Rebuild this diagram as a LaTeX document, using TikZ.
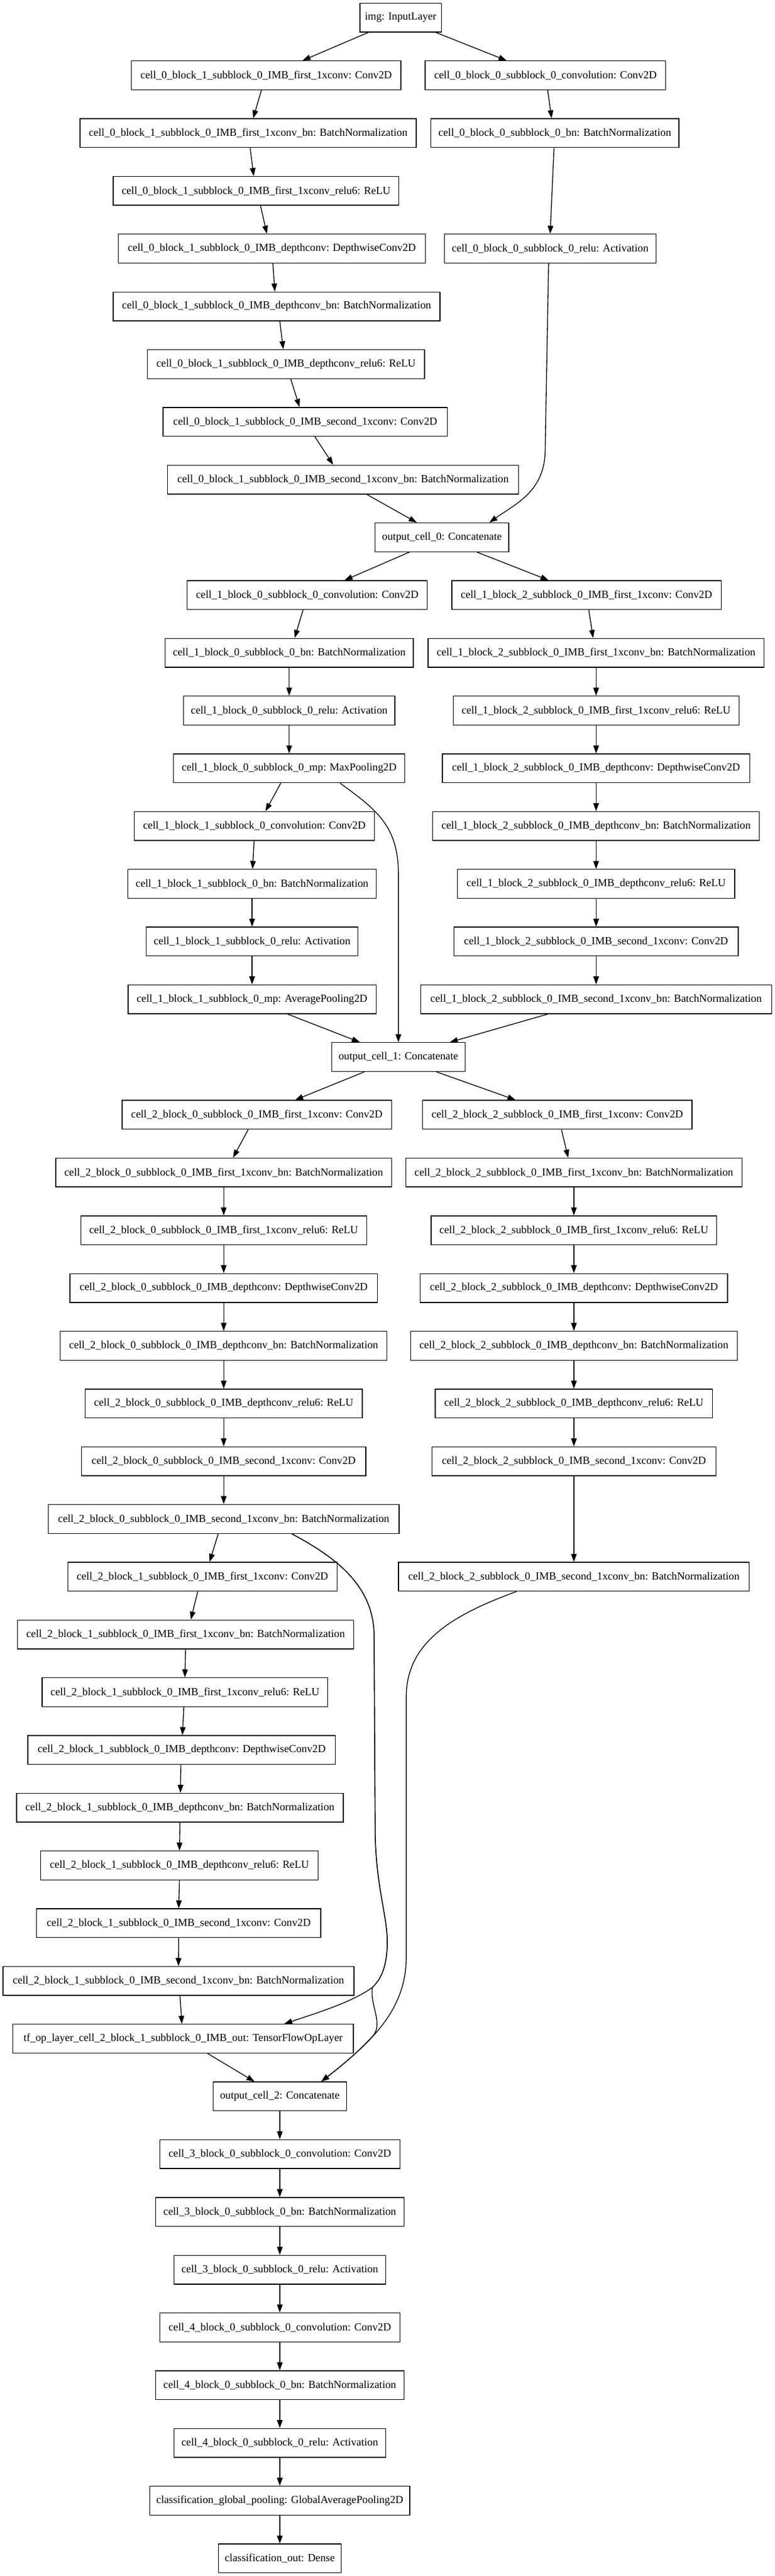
\documentclass[tikz,border=0pt]{standalone}
\usepackage{fontspec}
\setmainfont{Liberation Serif}
\usetikzlibrary{arrows.meta}
\begin{document}
\begin{tikzpicture}[x=1pt,y=1pt,
  layer/.style={draw=black, line width=1pt, rectangle, minimum height=36pt,
    inner xsep=0pt, inner ysep=0pt, font=\fontsize{13.5}{16}\selectfont, fill=white},
  conn/.style={draw=black, line width=1pt, -{Triangle[length=10pt,width=7pt]}},
  wimg/.style={minimum width=101.7pt},
  wfirst/.style={minimum width=336pt},
  wconv/.style={minimum width=299.8pt},
  wfbn/.style={minimum width=419.2pt},
  wbn/.style={minimum width=309.6pt},
  wfrelu/.style={minimum width=356.4pt},
  wdc/.style={minimum width=383.5pt},
  wact/.style={minimum width=263.9pt},
  wdbn/.style={minimum width=407.5pt},
  wdrelu/.style={minimum width=345.9pt},
  wsec/.style={minimum width=354.5pt},
  wsbn/.style={minimum width=437.7pt},
  wcat/.style={minimum width=166.5pt},
  wmp/.style={minimum width=288.5pt},
  wap/.style={minimum width=309.5pt},
  wtf/.style={minimum width=424.8pt},
  wgp/.style={minimum width=324.3pt},
  wout/.style={minimum width=152.9pt}]
\useasboundingbox (0,0) rectangle (966.6,-3212);
\fill[white] (0,0) rectangle (966.6,-3212);

% ---------- cell 0 ----------
\node[layer,wimg] (img) at (499.7,-22) {img: InputLayer};
\node[layer,wfirst] (c0b1a) at (332.0,-94) {cell\_0\_block\_1\_subblock\_0\_IMB\_first\_1xconv: Conv2D};
\node[layer,wconv] (c0b0a) at (680.3,-94) {cell\_0\_block\_0\_subblock\_0\_convolution: Conv2D};
\node[layer,wfbn] (c0b1b) at (309.5,-166) {cell\_0\_block\_1\_subblock\_0\_IMB\_first\_1xconv\_bn: BatchNormalization};
\node[layer,wbn] (c0b0b) at (692.0,-166) {cell\_0\_block\_0\_subblock\_0\_bn: BatchNormalization};
\node[layer,wfrelu] (c0b1c) at (319.4,-238) {cell\_0\_block\_1\_subblock\_0\_IMB\_first\_1xconv\_relu6: ReLU};
\node[layer,wdc] (c0b1d) at (339.1,-310) {cell\_0\_block\_1\_subblock\_0\_IMB\_depthconv: DepthwiseConv2D};
\node[layer,wact] (c0b0c) at (686.2,-310) {cell\_0\_block\_0\_subblock\_0\_relu: Activation};
\node[layer,wdbn] (c0b1e) at (345.0,-382) {cell\_0\_block\_1\_subblock\_0\_IMB\_depthconv\_bn: BatchNormalization};
\node[layer,wdrelu] (c0b1f) at (356.7,-454) {cell\_0\_block\_1\_subblock\_0\_IMB\_depthconv\_relu6: ReLU};
\node[layer,wsec] (c0b1g) at (380.7,-526) {cell\_0\_block\_1\_subblock\_0\_IMB\_second\_1xconv: Conv2D};
\node[layer,wsbn] (c0b1h) at (427.9,-598) {cell\_0\_block\_1\_subblock\_0\_IMB\_second\_1xconv\_bn: BatchNormalization};
\node[layer,wcat] (oc0) at (551.2,-670) {output\_cell\_0: Concatenate};

% ---------- cell 1 ----------
\node[layer,wconv] (c1b0a) at (383.2,-742) {cell\_1\_block\_0\_subblock\_0\_convolution: Conv2D};
\node[layer,wfirst] (c1b2a) at (731.5,-742) {cell\_1\_block\_2\_subblock\_0\_IMB\_first\_1xconv: Conv2D};
\node[layer,wbn] (c1b0b) at (360.7,-814) {cell\_1\_block\_0\_subblock\_0\_bn: BatchNormalization};
\node[layer,wfbn] (c1b2b) at (743.5,-814) {cell\_1\_block\_2\_subblock\_0\_IMB\_first\_1xconv\_bn: BatchNormalization};
\node[layer,wact] (c1b0c) at (360.7,-886) {cell\_1\_block\_0\_subblock\_0\_relu: Activation};
\node[layer,wfrelu] (c1b2c) at (743.5,-886) {cell\_1\_block\_2\_subblock\_0\_IMB\_first\_1xconv\_relu6: ReLU};
\node[layer,wmp] (c1b0d) at (360.7,-958) {cell\_1\_block\_0\_subblock\_0\_mp: MaxPooling2D};
\node[layer,wdc] (c1b2d) at (743.5,-958) {cell\_1\_block\_2\_subblock\_0\_IMB\_depthconv: DepthwiseConv2D};
\node[layer,wconv] (c1b1a) at (317.2,-1030) {cell\_1\_block\_1\_subblock\_0\_convolution: Conv2D};
\node[layer,wdbn] (c1b2e) at (743.5,-1030) {cell\_1\_block\_2\_subblock\_0\_IMB\_depthconv\_bn: BatchNormalization};
\node[layer,wbn] (c1b1b) at (314.4,-1102) {cell\_1\_block\_1\_subblock\_0\_bn: BatchNormalization};
\node[layer,wdrelu] (c1b2f) at (743.5,-1102) {cell\_1\_block\_2\_subblock\_0\_IMB\_depthconv\_relu6: ReLU};
\node[layer,wact] (c1b1c) at (314.4,-1174) {cell\_1\_block\_1\_subblock\_0\_relu: Activation};
\node[layer,wsec] (c1b2g) at (743.5,-1174) {cell\_1\_block\_2\_subblock\_0\_IMB\_second\_1xconv: Conv2D};
\node[layer,wap] (c1b1d) at (314.4,-1246) {cell\_1\_block\_1\_subblock\_0\_mp: AveragePooling2D};
\node[layer,wsbn] (c1b2h) at (743.5,-1246) {cell\_1\_block\_2\_subblock\_0\_IMB\_second\_1xconv\_bn: BatchNormalization};
\node[layer,wcat] (oc1) at (496.9,-1318) {output\_cell\_1: Concatenate};

% ---------- cell 2 ----------
\node[layer,wfirst] (c2b0a) at (320.3,-1390) {cell\_2\_block\_0\_subblock\_0\_IMB\_first\_1xconv: Conv2D};
\node[layer,wfirst] (c2b2a) at (695.1,-1390) {cell\_2\_block\_2\_subblock\_0\_IMB\_first\_1xconv: Conv2D};
\node[layer,wfbn] (c2b0b) at (279.0,-1462) {cell\_2\_block\_0\_subblock\_0\_IMB\_first\_1xconv\_bn: BatchNormalization};
\node[layer,wfbn] (c2b2b) at (715.8,-1462) {cell\_2\_block\_2\_subblock\_0\_IMB\_first\_1xconv\_bn: BatchNormalization};
\node[layer,wfrelu] (c2b0c) at (279.0,-1534) {cell\_2\_block\_0\_subblock\_0\_IMB\_first\_1xconv\_relu6: ReLU};
\node[layer,wfrelu] (c2b2c) at (715.8,-1534) {cell\_2\_block\_2\_subblock\_0\_IMB\_first\_1xconv\_relu6: ReLU};
\node[layer,wdc] (c2b0d) at (279.0,-1606) {cell\_2\_block\_0\_subblock\_0\_IMB\_depthconv: DepthwiseConv2D};
\node[layer,wdc] (c2b2d) at (715.8,-1606) {cell\_2\_block\_2\_subblock\_0\_IMB\_depthconv: DepthwiseConv2D};
\node[layer,wdbn] (c2b0e) at (279.0,-1678) {cell\_2\_block\_0\_subblock\_0\_IMB\_depthconv\_bn: BatchNormalization};
\node[layer,wdbn] (c2b2e) at (715.8,-1678) {cell\_2\_block\_2\_subblock\_0\_IMB\_depthconv\_bn: BatchNormalization};
\node[layer,wdrelu] (c2b0f) at (279.0,-1750) {cell\_2\_block\_0\_subblock\_0\_IMB\_depthconv\_relu6: ReLU};
\node[layer,wdrelu] (c2b2f) at (715.8,-1750) {cell\_2\_block\_2\_subblock\_0\_IMB\_depthconv\_relu6: ReLU};
\node[layer,wsec] (c2b0g) at (279.0,-1822) {cell\_2\_block\_0\_subblock\_0\_IMB\_second\_1xconv: Conv2D};
\node[layer,wsec] (c2b2g) at (715.8,-1822) {cell\_2\_block\_2\_subblock\_0\_IMB\_second\_1xconv: Conv2D};
\node[layer,wsbn] (c2b0h) at (279.0,-1894) {cell\_2\_block\_0\_subblock\_0\_IMB\_second\_1xconv\_bn: BatchNormalization};
\node[layer,wfirst] (c2b1a) at (252.5,-1966) {cell\_2\_block\_1\_subblock\_0\_IMB\_first\_1xconv: Conv2D};
\node[layer,wsbn] (c2b2h) at (715.8,-1966) {cell\_2\_block\_2\_subblock\_0\_IMB\_second\_1xconv\_bn: BatchNormalization};
\node[layer,wfbn] (c2b1b) at (231.5,-2038) {cell\_2\_block\_1\_subblock\_0\_IMB\_first\_1xconv\_bn: BatchNormalization};
\node[layer,wfrelu] (c2b1c) at (230.6,-2110) {cell\_2\_block\_1\_subblock\_0\_IMB\_first\_1xconv\_relu6: ReLU};
\node[layer,wdc] (c2b1d) at (226.6,-2182) {cell\_2\_block\_1\_subblock\_0\_IMB\_depthconv: DepthwiseConv2D};
\node[layer,wdbn] (c2b1e) at (224.4,-2254) {cell\_2\_block\_1\_subblock\_0\_IMB\_depthconv\_bn: BatchNormalization};
\node[layer,wdrelu] (c2b1f) at (223.8,-2326) {cell\_2\_block\_1\_subblock\_0\_IMB\_depthconv\_relu6: ReLU};
\node[layer,wsec] (c2b1g) at (222.9,-2398) {cell\_2\_block\_1\_subblock\_0\_IMB\_second\_1xconv: Conv2D};
\node[layer,wsbn] (c2b1h) at (222.6,-2470) {cell\_2\_block\_1\_subblock\_0\_IMB\_second\_1xconv\_bn: BatchNormalization};
\node[layer,wtf] (tfop) at (228.4,-2542) {tf\_op\_layer\_cell\_2\_block\_1\_subblock\_0\_IMB\_out: TensorFlowOpLayer};
\node[layer,wcat] (oc2) at (349.0,-2614) {output\_cell\_2: Concatenate};

% ---------- cells 3, 4, head ----------
\node[layer,wconv] (c3a) at (349.0,-2686) {cell\_3\_block\_0\_subblock\_0\_convolution: Conv2D};
\node[layer,wbn] (c3b) at (349.0,-2758) {cell\_3\_block\_0\_subblock\_0\_bn: BatchNormalization};
\node[layer,wact] (c3c) at (349.0,-2830) {cell\_3\_block\_0\_subblock\_0\_relu: Activation};
\node[layer,wconv] (c4a) at (349.0,-2902) {cell\_4\_block\_0\_subblock\_0\_convolution: Conv2D};
\node[layer,wbn] (c4b) at (349.0,-2974) {cell\_4\_block\_0\_subblock\_0\_bn: BatchNormalization};
\node[layer,wact] (c4c) at (349.0,-3046) {cell\_4\_block\_0\_subblock\_0\_relu: Activation};
\node[layer,wgp] (gp) at (349.0,-3118) {classification\_global\_pooling: GlobalAveragePooling2D};
\node[layer,wout] (out) at (349.0,-3190) {classification\_out: Dense};

% ---------- connectors: cell 0 ----------
\draw[conn] ([xshift=-40.4pt]img.south) -- ([xshift=45.3pt]c0b1a.north);
\draw[conn] ([xshift=44pt]img.south) -- ([xshift=-48.4pt]c0b0a.north);
\draw[conn] ([xshift=-5.9pt]c0b1a.south) -- ([xshift=6.2pt]c0b1b.north);
\draw[conn] ([xshift=2.8pt]c0b0a.south) -- ([xshift=-4pt]c0b0b.north);
\draw[conn] ([xshift=2.5pt]c0b1b.south) -- ([xshift=-3pt]c0b1c.north);
\draw[conn] ([xshift=-1pt]c0b0b.south) -- (c0b0c.north);
\draw[conn] ([xshift=5.5pt]c0b1c.south) -- ([xshift=-6.2pt]c0b1d.north);
\draw[conn] ([xshift=1.2pt]c0b1d.south) -- ([xshift=-2.2pt]c0b1e.north);
\draw[conn] ([xshift=4pt]c0b1e.south) -- ([xshift=-3.4pt]c0b1f.north);
\draw[conn] ([xshift=5.9pt]c0b1f.south) -- ([xshift=-7.1pt]c0b1g.north);
\draw[conn] ([xshift=12pt]c0b1g.south) -- ([xshift=-12.3pt]c0b1h.north);
\draw[conn] ([xshift=29.6pt]c0b1h.south) -- ([xshift=-31.4pt]oc0.north);
\draw[conn] ([xshift=-2pt]c0b0c.south) -- (680,-560) .. controls (680,-612) and (645,-627) .. ([xshift=59.2pt]oc0.north);

% ---------- connectors: cell 1 ----------
\draw[conn] ([xshift=-40.7pt]oc0.south) -- ([xshift=46.5pt]c1b0a.north);
\draw[conn] ([xshift=43.8pt]oc0.south) -- ([xshift=-47.2pt]c1b2a.north);
\draw[conn] ([xshift=-5.2pt]c1b0a.south) -- ([xshift=6.8pt]c1b0b.north);
\draw[conn] ([xshift=2.8pt]c1b2a.south) -- ([xshift=-3.7pt]c1b2b.north);
\draw[conn] (c1b0b) -- (c1b0c);
\draw[conn] (c1b0c) -- (c1b0d);
\draw[conn] (c1b2b) -- (c1b2c);
\draw[conn] (c1b2c) -- (c1b2d);
\draw[conn] (c1b2d) -- (c1b2e);
\draw[conn] (c1b2e) -- (c1b2f);
\draw[conn] (c1b2f) -- (c1b2g);
\draw[conn] (c1b2g) -- (c1b2h);
\draw[conn] ([xshift=-10.5pt]c1b0d.south) -- ([xshift=13.9pt]c1b1a.north);
\draw[conn] ([xshift=63.5pt]c1b0d.south) .. controls (470,-1010) and (496.9,-1030) .. (496.9,-1090) -- (oc1.north);
\draw[conn] ([xshift=-0.3pt]c1b1a.south) -- ([xshift=0.6pt]c1b1b.north);
\draw[conn] (c1b1b) -- (c1b1c);
\draw[conn] (c1b1c) -- (c1b1d);
\draw[conn] ([xshift=44.4pt]c1b1d.south) -- ([xshift=-48.1pt]oc1.north);
\draw[conn] ([xshift=-60.4pt]c1b2h.south) -- ([xshift=64.1pt]oc1.north);

% ---------- connectors: cell 2 ----------
\draw[conn] ([xshift=-42.5pt]oc1.south) -- ([xshift=47.8pt]c2b0a.north);
\draw[conn] ([xshift=47.5pt]oc1.south) -- ([xshift=-52.1pt]c2b2a.north);
\draw[conn] ([xshift=-10.8pt]c2b0a.south) -- ([xshift=11.7pt]c2b0b.north);
\draw[conn] ([xshift=5.2pt]c2b2a.south) -- ([xshift=-7.1pt]c2b2b.north);
\draw[conn] (c2b0b) -- (c2b0c);
\draw[conn] (c2b0c) -- (c2b0d);
\draw[conn] (c2b0d) -- (c2b0e);
\draw[conn] (c2b0e) -- (c2b0f);
\draw[conn] (c2b0f) -- (c2b0g);
\draw[conn] (c2b0g) -- (c2b0h);
\draw[conn] (c2b2b) -- (c2b2c);
\draw[conn] (c2b2c) -- (c2b2d);
\draw[conn] (c2b2d) -- (c2b2e);
\draw[conn] (c2b2e) -- (c2b2f);
\draw[conn] (c2b2f) -- (c2b2g);
\draw[conn] (c2b2g) -- (c2b2h);
\draw[conn] ([xshift=-6.8pt]c2b0h.south) -- ([xshift=8.9pt]c2b1a.north);
\draw[conn] ([xshift=-5.9pt]c2b1a.south) -- ([xshift=6.5pt]c2b1b.north);
\draw[conn] (c2b1b.south) -- (c2b1c.north);
\draw[conn] ([xshift=-1.3pt]c2b1c.south) -- ([xshift=0.9pt]c2b1d.north);
\draw[conn] ([xshift=-1pt]c2b1d.south) -- ([xshift=0.6pt]c2b1e.north);
\draw[conn] (c2b1e.south) -- (c2b1f.north);
\draw[conn] (c2b1f.south) -- (c2b1g.north);
\draw[conn] (c2b1g.south) -- (c2b1h.north);
\draw[conn] ([xshift=1.8pt]c2b1h.south) -- ([xshift=-1.5pt]tfop.north);
% residual from block 0 into the op layer
\draw[conn] ([xshift=85pt]c2b0h.south) .. controls (415,-1940) and (466.6,-1975) .. (466.6,-2040)
  -- (468,-2290) .. controls (470,-2360) and (484,-2390) .. (483,-2426)
  .. controls (482,-2452) and (476,-2467) .. (464.5,-2478)
  .. controls (440,-2496) and (398,-2509) .. ([xshift=126.1pt]tfop.north);
% block 0 into output_cell_2
\draw[conn] ([xshift=85pt]c2b0h.south) .. controls (415,-1940) and (466.6,-1975) .. (466.6,-2040)
  -- (468,-2290) .. controls (470,-2360) and (484,-2390) .. (483,-2426)
  .. controls (482,-2452) and (476,-2467) .. (464.5,-2478)
  .. controls (461,-2500) and (478,-2522) .. (465.8,-2537.8)
  .. controls (448.5,-2557) and (426.4,-2575.6) .. ([xshift=51.7pt]oc2.north);
% block 2 into output_cell_2
\draw[conn] ([xshift=-71.7pt]c2b2h.south) .. controls (560,-2015) and (506.7,-2050) .. (506.7,-2116)
  -- (506.7,-2440) .. controls (506.7,-2505) and (465,-2545) .. ([xshift=51.7pt]oc2.north);
\draw[conn] ([xshift=30.6pt]tfop.south) -- ([xshift=-31.5pt]oc2.north);

% ---------- connectors: tail ----------
\draw[conn] (oc2) -- (c3a);
\draw[conn] (c3a) -- (c3b);
\draw[conn] (c3b) -- (c3c);
\draw[conn] (c3c) -- (c4a);
\draw[conn] (c4a) -- (c4b);
\draw[conn] (c4b) -- (c4c);
\draw[conn] (c4c) -- (gp);
\draw[conn] (gp) -- (out);
\end{tikzpicture}
\end{document}
